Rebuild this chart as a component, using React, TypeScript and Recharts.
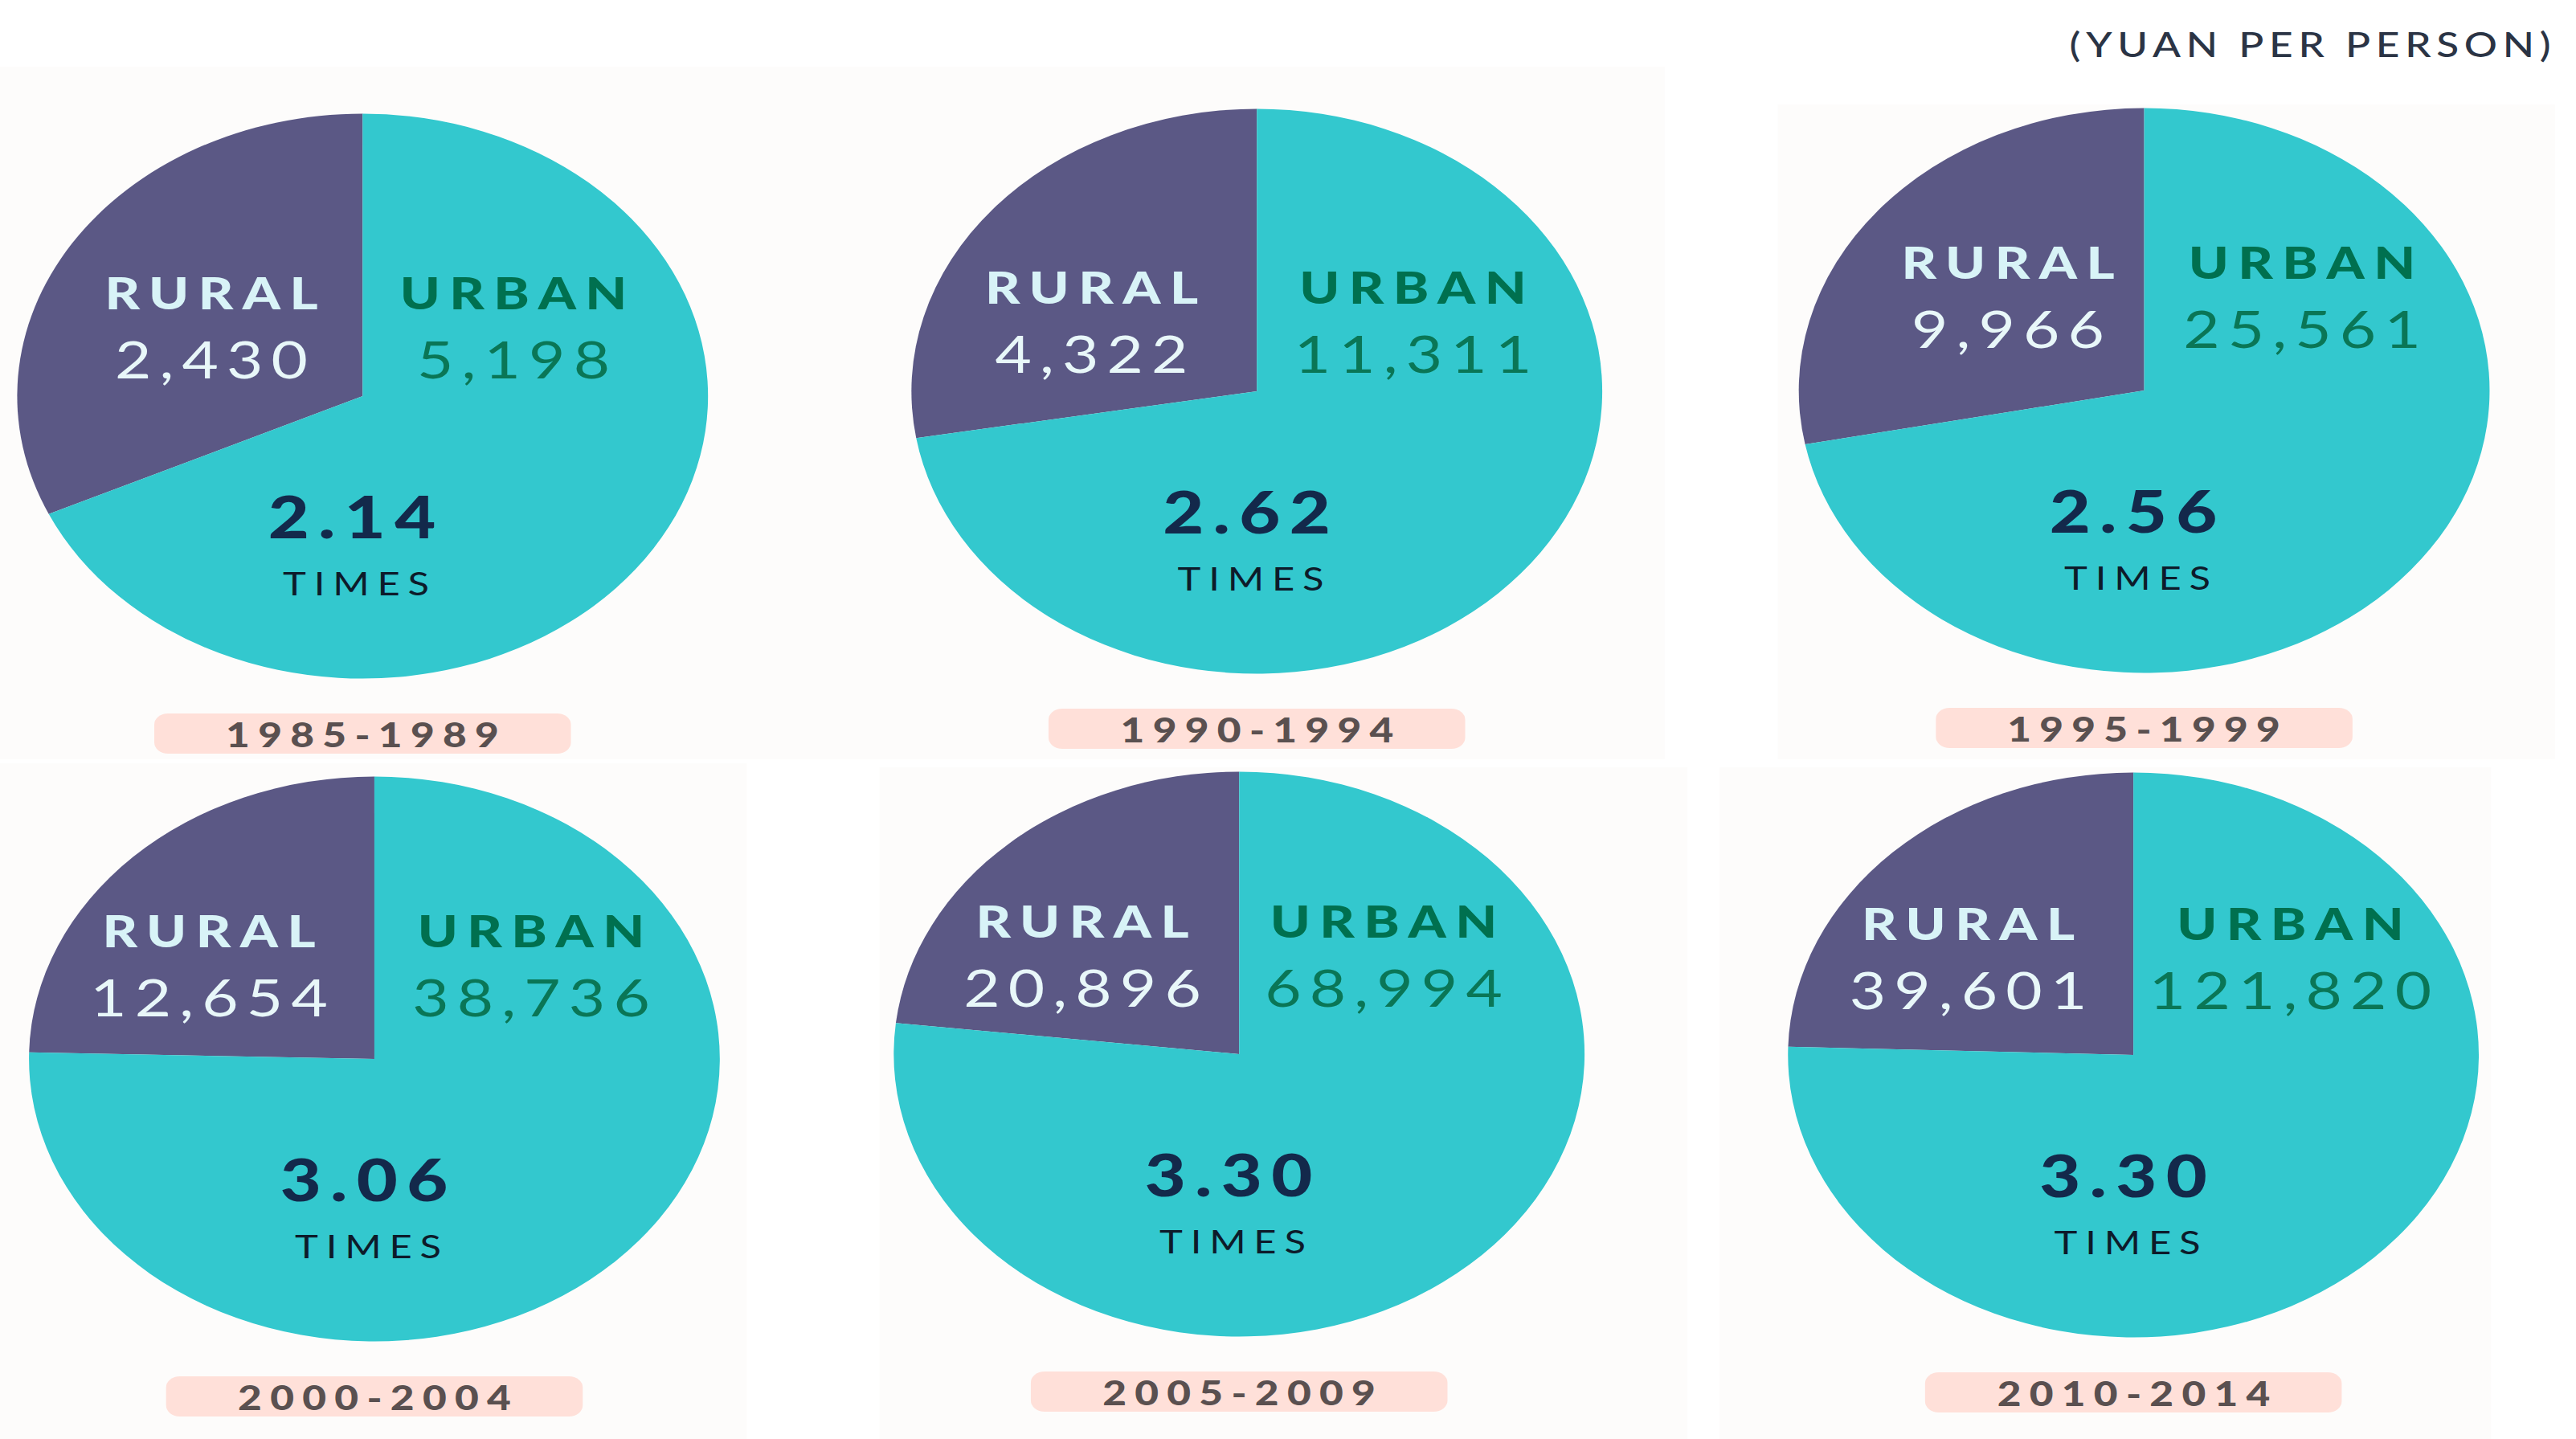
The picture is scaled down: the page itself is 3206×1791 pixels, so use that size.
// Urban vs rural income — six period pies, laid out as the stretched infographic.
import { PieChart, Pie, Cell } from "recharts";

const periods = ["1985-1989", "1990-1994", "1995-1999", "2000-2004", "2005-2009", "2010-2014"];
const ruralIncome = [2430, 4322, 9966, 12654, 20896, 39601];
const urbanIncome = [5198, 11311, 25561, 38736, 68994, 121820];
const ratioLabels = ["2.14", "2.62", "2.56", "3.06", "3.30", "3.30"];

// the source image is stretched horizontally; everything is drawn unstretched then scaled
const SX = 1.223;
const PAGE_W = 3206;
const PAGE_H = 1791;
const R = 351.5;
const BOX = 720;

// pie centres (page px) and label offsets per panel
const centers = [
  [451, 492.5],
  [1564.5, 487],
  [2668, 486],
  [466, 1317.5],
  [1542, 1312],
  [2655.5, 1312.5],
];
const headDy = [-129, -130, -160, -160, -166, -164];
const ruralDx = [-188, -206, -169, -206, -195, -206];
const urbanDx = [188, 194, 197, 195, 180, 195];

const RURAL_COLOR = "#5b5885";
const URBAN_COLOR = "#33c8ce";
const FONT = "Lato, 'Noto Sans', sans-serif";

const bgPanels = [
  [0, 83, 2072, 945],
  [2213, 130, 3180, 945],
  [0, 950, 930, 1791],
  [1095, 955, 2100, 1791],
  [2140, 955, 3100, 1791],
];

function Txt({ x, y, size, weight, color, spacing, children }: any) {
  return (
    <div
      style={{
        position: "absolute",
        left: x / SX,
        top: y,
        transform: "translate(-50%, -50%)",
        fontFamily: FONT,
        fontSize: size,
        fontWeight: weight,
        color,
        letterSpacing: `${spacing}em`,
        paddingLeft: `${spacing}em`,
        lineHeight: 1,
        whiteSpace: "nowrap",
      }}
    >
      {children}
    </div>
  );
}

function Panel({ i }: { i: number }) {
  const [cx, cy] = centers[i];
  const data = [
    { name: "Rural", value: ruralIncome[i] },
    { name: "Urban", value: urbanIncome[i] },
  ];
  const hy = cy + headDy[i];
  const vy = hy + 83;
  return (
    <>
      <div style={{ position: "absolute", left: cx / SX - BOX / 2, top: cy - BOX / 2 }}>
        <PieChart width={BOX} height={BOX} margin={{ top: 0, right: 0, bottom: 0, left: 0 }}>
          <Pie
            data={data}
            dataKey="value"
            cx={BOX / 2}
            cy={BOX / 2}
            outerRadius={R}
            startAngle={90}
            endAngle={450}
            stroke="none"
            isAnimationActive={false}
          >
            <Cell fill={RURAL_COLOR} />
            <Cell fill={URBAN_COLOR} />
          </Pie>
        </PieChart>
      </div>
      <Txt x={cx + ruralDx[i]} y={hy} size={55} weight={900} color="#d8f3f7" spacing={0.17}>
        RURAL
      </Txt>
      <Txt x={cx + ruralDx[i]} y={vy} size={64} weight={400} color="#e8f7f9" spacing={0.13}>
        {ruralIncome[i].toLocaleString("en-US")}
      </Txt>
      <Txt x={cx + urbanDx[i]} y={hy} size={55} weight={900} color="#00704f" spacing={0.17}>
        URBAN
      </Txt>
      <Txt x={cx + urbanDx[i]} y={vy} size={64} weight={400} color="#0a7656" spacing={0.13}>
        {urbanIncome[i].toLocaleString("en-US")}
      </Txt>
      <Txt x={cx - 13} y={cy + 149} size={72} weight={900} color="#13294b" spacing={0.13}>
        {ratioLabels[i]}
      </Txt>
      <Txt x={cx - 8} y={cy + 233} size={40} weight={400} color="#0d1b2a" spacing={0.2}>
        TIMES
      </Txt>
      <div
        style={{
          position: "absolute",
          left: cx / SX - 212,
          top: cy + 395,
          width: 424,
          height: 50,
          borderRadius: 14,
          background: "#ffe0d9",
        }}
      />
      <Txt x={cx} y={cy + 421} size={42} weight={900} color="#5a5050" spacing={0.2}>
        {periods[i]}
      </Txt>
    </>
  );
}

export default function App() {
  return (
    <div
      style={{
        position: "fixed",
        left: 0,
        top: 0,
        width: PAGE_W,
        height: PAGE_H,
        background: "#ffffff",
        overflow: "hidden",
      }}
    >
      <div
        style={{
          position: "absolute",
          left: 0,
          top: 0,
          width: PAGE_W / SX,
          height: PAGE_H,
          transform: `scaleX(${SX})`,
          transformOrigin: "0 0",
        }}
      >
        {bgPanels.map(([x1, y1, x2, y2], k) => (
          <div
            key={k}
            style={{
              position: "absolute",
              left: x1 / SX,
              top: y1,
              width: (x2 - x1) / SX,
              height: y2 - y1,
              background: "#fdfcfb",
            }}
          />
        ))}
        <Txt x={2875} y={55} size={42} weight={500} color="#2b3445" spacing={0.13}>
          (YUAN PER PERSON)
        </Txt>
        {periods.map((_, i) => (
          <Panel key={i} i={i} />
        ))}
      </div>
    </div>
  );
}
